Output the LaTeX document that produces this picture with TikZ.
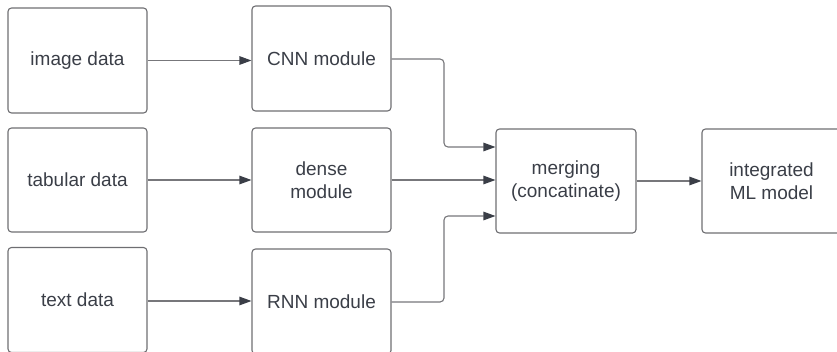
\documentclass[tikz,border=0pt]{standalone}
\usepackage{fontspec}
\setmainfont{Liberation Sans}
\usetikzlibrary{arrows.meta}
\definecolor{txt}{HTML}{3A3E47}
\definecolor{boxline}{HTML}{6E6E72}
\definecolor{conn}{HTML}{77777B}
\tikzset{
  box/.style={draw=boxline, line width=1.1pt, rounded corners=3.5pt, minimum width=139pt, minimum height=104pt, inner sep=0pt, align=center, text=txt, font=\fontsize{19}{23}\selectfont},
  link/.style={draw=conn, line width=1.1pt, rounded corners=4pt, -{Triangle[length=12pt,width=8.5pt,fill=txt,color=txt]}}
}
\begin{document}
\begin{tikzpicture}[x=1pt,y=-1pt]
\useasboundingbox (0,0) rectangle (837,351);
\clip (0,0) rectangle (837,351);
\node[box, minimum height=105pt] (img) at (77.5,60.5) {image data};
\node[box] (tab) at (77.5,180) {tabular data};
\node[box, minimum height=105pt] (txtd) at (77.5,300) {text data};
\node[box, minimum height=105pt] (cnn) at (321.5,58.5) {CNN module};
\node[box] (dense) at (321.5,180) {dense\\module};
\node[box, minimum height=105pt] (rnn) at (321.5,301.5) {RNN module};
\node[box, minimum width=140pt] (merge) at (566,181) {merging\\(concatinate)};
\node[box] (ml) at (771.5,181) {integrated\\ML model};
\coordinate (e1) at (444,59);
\coordinate (e3) at (444,302);
\draw[link] (img.east) -- (img.east -| cnn.west);
\draw[link] (tab.east) -- (tab.east -| dense.west);
\draw[link] ([yshift=-1pt]txtd.east) -- ([yshift=-1pt]txtd.east -| rnn.west);
\draw[link] (cnn.east |- e1) -- (e1) |- ([yshift=34pt]merge.west);
\draw[link] (dense.east) -- (dense.east -| merge.west);
\draw[link] (rnn.east |- e3) -- (e3) |- ([yshift=-35pt]merge.west);
\draw[link] (merge.east) -- (merge.east -| ml.west);
\end{tikzpicture}
\end{document}
